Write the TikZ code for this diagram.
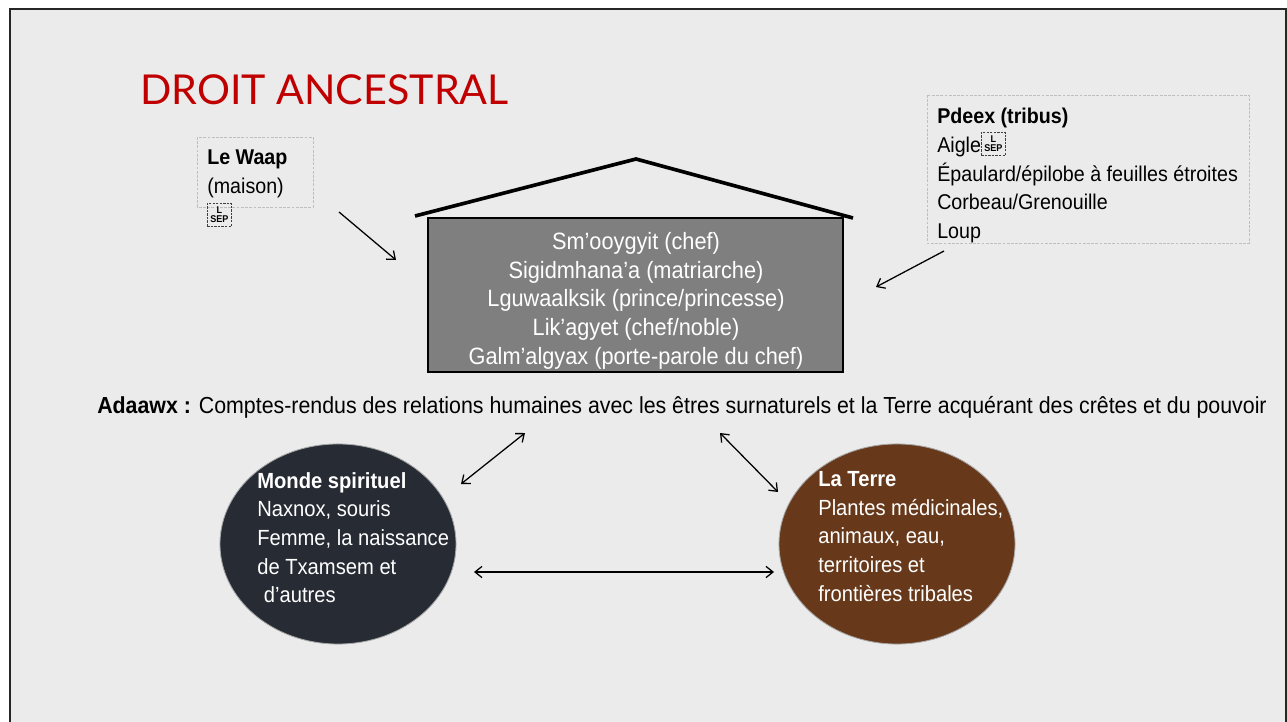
\documentclass[tikz,border=0pt]{standalone}
\usepackage{fontspec}
\setmainfont{Liberation Sans}[FakeStretch=0.92]
\newfontfamily\titlefont{Lato}
\usetikzlibrary{shapes.geometric,arrows.meta}
\definecolor{slidebg}{HTML}{EBEBEB}
\definecolor{titlered}{HTML}{C00000}
\definecolor{spiritfill}{HTML}{262B34}
\definecolor{earthfill}{HTML}{67391A}
\definecolor{housefill}{HTML}{7F7F7F}
\definecolor{boxline}{HTML}{BFBFBF}
\tikzset{
  txt/.style={inner sep=0pt, align=left, font=\fontsize{15.2}{20.4}\selectfont},
  tagbox/.style={draw=boxline, dash pattern=on 2pt off 1pt, line width=0.5pt},
  lsep/.style={draw=black!75, dash pattern=on 1.5pt off 1pt, line width=0.6pt, inner sep=0.3pt, align=center, font=\fontsize{7}{6.5}\selectfont\bfseries, minimum width=0.6cm, minimum height=0.57cm},
  bubble/.style={ellipse, draw=gray!70, line width=0.6pt, minimum width=5.9cm, minimum height=5cm, inner sep=0pt},
  bubbletxt/.style={txt, text=white, font=\fontsize{15.6}{20.4}\selectfont},
  arr/.style={line width=0.9pt, >={Straight Barb[length=5pt,width=8pt]}}
}
\begin{document}
\begin{tikzpicture}[x=0.025cm, y=-0.025cm]
            \useasboundingbox (0,0) rectangle (1287,722);
            \fill[white] (0,0) rectangle (1287,722);
            \fill[slidebg] (10,9) rectangle (1286,722);
            \draw[line width=2pt, black!85] (10,722) -- (10,9) -- (1286,9) -- (1286,722);
            \node[anchor=base west, inner sep=0pt, text=titlered, font=\titlefont\fontsize{29.3}{31}\selectfont] (title) at (140,105) {DROIT ANCESTRAL};
            \draw[tagbox] (197,137) rectangle (313,207);
            \node[txt, anchor=north west] (waap) at (207,150) {\textbf{Le Waap}\\(maison)};
            \node[lsep, anchor=north west] (waapsep) at (207,203) {L\\SEP};
            \draw[tagbox] (927,95) rectangle (1249,243);
            \node[txt, anchor=north west] (pdeex) at (937,108) {\textbf{Pdeex (tribus)}\\Aigle\\Épaulard/épilobe à feuilles étroites\\Corbeau/Grenouille\\Loup};
            \node[lsep, anchor=north west] (aiglesep) at (981,132) {L\\SEP};
            \draw[line width=2.6pt] (415,216) -- (636,159) -- (853,218);
            \node[draw, line width=2pt, fill=housefill, minimum width=10.375cm, minimum height=3.85cm] (house) at (635.5,295) {};
            \node[txt, align=center, text=white, anchor=north, font=\fontsize{16.8}{20.4}\selectfont] (ranks) at (636,232) {Sm’ooygyit (chef)\\Sigidmhana’a (matriarche)\\Lguwaalksik (prince/princesse)\\Lik’agyet (chef/noble)\\Galm’algyax (porte-parole du chef)};
            \coordinate (waaptail) at (339,212);
            \coordinate (waaphead) at (396,260);
            \draw[arr, ->] (waaptail) -- (waaphead);
            \coordinate (pdeextail) at (944,251);
            \coordinate (pdeexhead) at (876,287);
            \draw[arr, ->] (pdeextail) -- (pdeexhead);
            \node[anchor=base west, inner sep=0pt, font=\fontsize{16.5}{18}\selectfont] (adaawx) at (97,413) {\textbf{Adaawx :} Comptes-rendus des relations humaines avec les êtres surnaturels et la Terre acquérant des crêtes et du pouvoir};
            \node[bubble, fill=spiritfill] (spirit) at (338,544) {};
            \node[bubble, fill=earthfill] (earth) at (897,544) {};
            \node[bubbletxt, anchor=north west] (spirittxt) at (257,472) {\textbf{Monde spirituel}\\Naxnox, souris\\Femme, la naissance\\de Txamsem et\\\hspace*{0.3em}d’autres};
            \node[bubbletxt, anchor=north west] (earthtxt) at (818,471) {\textbf{La Terre}\\Plantes médicinales,\\animaux, eau,\\territoires et\\frontières tribales};
            \coordinate (spiritup) at (461,484);
            \coordinate (adaawxleft) at (525,433);
            \draw[arr, <->] (spiritup) -- (adaawxleft);
            \coordinate (adaawxright) at (720,433);
            \coordinate (earthup) at (778,492);
            \draw[arr, <->] (adaawxright) -- (earthup);
            \coordinate (spiritside) at (474,572);
            \coordinate (earthside) at (774,572);
            \draw[arr, <->] (spiritside) -- (earthside);
          \end{tikzpicture}
\end{document}
